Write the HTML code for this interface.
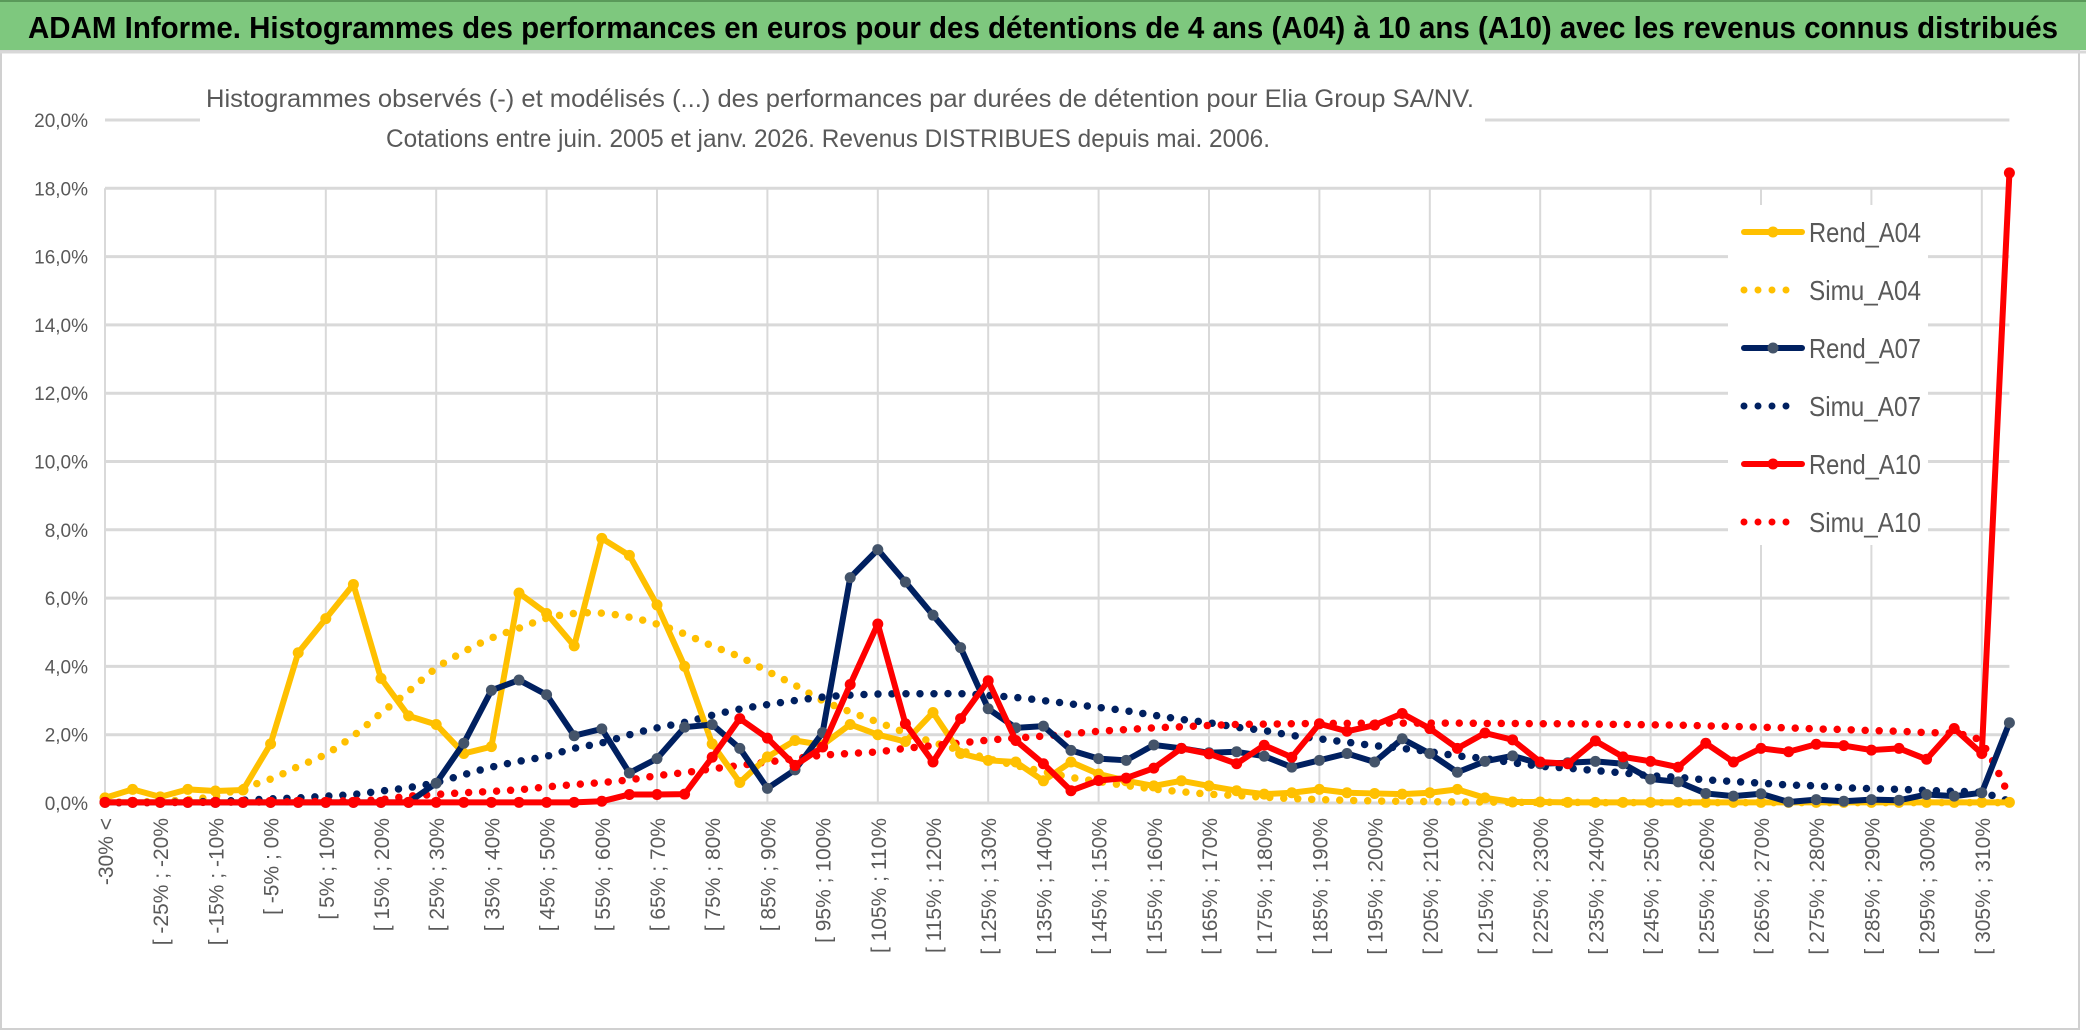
<!DOCTYPE html>
<html><head><meta charset="utf-8"><style>
html,body{margin:0;padding:0;background:#fff;}
body{width:2086px;height:1031px;overflow:hidden;font-family:"Liberation Sans",sans-serif;}
</style></head><body>
<svg id="chart" width="2086" height="1031" xmlns="http://www.w3.org/2000/svg" font-family="Liberation Sans, sans-serif">
<rect x="0" y="0" width="2086" height="1031" fill="#fff"/>
<rect x="1" y="50" width="2078" height="979" fill="none" stroke="#d0d0d0" stroke-width="2"/>
<rect x="0" y="0" width="2086" height="50" fill="#7ec87e"/>
<line x1="0" y1="1" x2="2086" y2="1" stroke="#5a9a5a" stroke-width="2"/>
<line x1="0" y1="52" x2="2086" y2="52" stroke="#d8d8d8" stroke-width="3"/>
<text x="1043" y="38" text-anchor="middle" font-size="31" font-weight="bold" fill="#000" textLength="2030" lengthAdjust="spacingAndGlyphs">ADAM Informe. Histogrammes des performances en euros pour des détentions de 4 ans (A04) à 10 ans (A10) avec les revenus connus distribués</text>
<g id="grid"></g>
<g id="yaxis"></g>
<g id="xaxis"></g>
<rect x="200" y="76" width="1285" height="86" fill="#fff"/>
<text x="840" y="107" text-anchor="middle" font-size="25" fill="#595959" textLength="1268" lengthAdjust="spacingAndGlyphs">Histogrammes observés (-) et modélisés (...) des performances par durées de détention pour Elia Group SA/NV.</text>
<text x="828" y="147" text-anchor="middle" font-size="25" fill="#595959" textLength="884" lengthAdjust="spacingAndGlyphs">Cotations entre juin. 2005 et janv. 2026. Revenus DISTRIBUES depuis mai. 2006.</text>
<g id="series"></g>
<g id="legend"></g>
</svg>
<script>
const categories = (function(){const c=["-30% <"];for(let i=1;i<70;i++){const a=-30+5*(i-1);c.push("[ "+a+"% ; "+(a+5)+"%");}return c;})();
const yTicks = [0,2,4,6,8,10,12,14,16,18,20];
const rendA04 = [0.15,0.4,0.18,0.4,0.35,0.38,1.73,4.4,5.4,6.4,3.65,2.55,2.3,1.45,1.65,6.15,5.55,4.6,7.75,7.25,5.8,4.0,1.73,0.6,1.35,1.83,1.7,2.3,2.0,1.8,2.65,1.45,1.25,1.2,0.65,1.2,0.85,0.65,0.5,0.65,0.5,0.36,0.26,0.3,0.4,0.3,0.28,0.26,0.3,0.4,0.15,0.03,0.03,0.02,0.02,0.02,0.02,0.02,0.02,0.02,0.02,0.02,0.02,0.02,0.02,0.02,0.02,0.02,0.02,0.02];
const simuA04 = [0.02,0.03,0.05,0.1,0.2,0.45,0.7,1.07,1.43,1.97,2.63,3.27,3.95,4.43,4.83,5.12,5.41,5.55,5.56,5.44,5.24,4.95,4.6,4.28,3.86,3.45,3.0,2.67,2.37,2.06,1.78,1.54,1.3,1.1,0.92,0.75,0.63,0.51,0.41,0.33,0.26,0.22,0.17,0.13,0.1,0.08,0.06,0.05,0.04,0.03,0.03,0.02,0.02,0.02,0.01,0.01,0.01,0.01,0.01,0.01,0.01,0.01,0.01,0.01,0.01,0.01,0.01,0.01,0.01,0.01];
const rendA07 = [0.02,0.02,0.02,0.02,0.02,0.02,0.02,0.02,0.02,0.02,0.02,0.02,0.58,1.75,3.3,3.6,3.17,1.97,2.17,0.88,1.3,2.22,2.3,1.6,0.43,0.97,2.06,6.6,7.42,6.47,5.5,4.55,2.76,2.2,2.25,1.54,1.3,1.25,1.7,1.6,1.47,1.5,1.37,1.05,1.25,1.45,1.2,1.88,1.45,0.9,1.22,1.38,1.15,1.18,1.22,1.15,0.7,0.62,0.28,0.2,0.27,0.03,0.1,0.05,0.1,0.08,0.25,0.2,0.3,2.35];
const simuA07 = [0.01,0.01,0.02,0.03,0.05,0.08,0.12,0.15,0.2,0.25,0.35,0.45,0.6,0.83,1.05,1.22,1.37,1.6,1.76,2.0,2.2,2.36,2.57,2.75,2.88,3.0,3.1,3.16,3.19,3.2,3.2,3.2,3.15,3.09,3.0,2.9,2.8,2.7,2.57,2.45,2.35,2.22,2.12,1.98,1.88,1.78,1.68,1.6,1.5,1.38,1.3,1.18,1.08,1.02,0.95,0.88,0.8,0.75,0.68,0.63,0.58,0.53,0.5,0.45,0.42,0.4,0.37,0.34,0.3,0.05];
const rendA10 = [0.02,0.02,0.02,0.02,0.02,0.02,0.02,0.02,0.02,0.02,0.02,0.02,0.02,0.02,0.02,0.02,0.02,0.02,0.05,0.25,0.25,0.26,1.34,2.47,1.9,1.1,1.64,3.47,5.24,2.32,1.2,2.47,3.58,1.83,1.15,0.36,0.66,0.73,1.02,1.6,1.44,1.15,1.69,1.34,2.32,2.1,2.28,2.62,2.18,1.6,2.05,1.85,1.2,1.15,1.82,1.35,1.22,1.05,1.75,1.2,1.6,1.5,1.72,1.68,1.55,1.6,1.28,2.18,1.45,18.45];
const simuA10 = [0.01,0.01,0.01,0.02,0.02,0.03,0.03,0.04,0.05,0.07,0.1,0.2,0.25,0.3,0.34,0.39,0.47,0.54,0.6,0.68,0.8,0.89,1.0,1.1,1.2,1.3,1.4,1.45,1.5,1.6,1.68,1.76,1.84,1.9,1.96,2.03,2.1,2.15,2.2,2.23,2.27,2.3,2.31,2.32,2.33,2.33,2.34,2.34,2.34,2.34,2.33,2.33,2.32,2.32,2.31,2.3,2.29,2.28,2.26,2.24,2.22,2.2,2.17,2.15,2.12,2.1,2.06,2.03,1.75,0.2];
const seriesNames = ["Rend_A04","Simu_A04","Rend_A07","Simu_A07","Rend_A10","Simu_A10"];

const NS="http://www.w3.org/2000/svg";
const X0=105, DX=27.6, Y0=803, PPU=34.15;
function xs(i){return X0+DX*i;}
function ys(v){return Y0-PPU*v;}
function mk(tag,attrs,parent){const e=document.createElementNS(NS,tag);for(const k in attrs)e.setAttribute(k,attrs[k]);parent.appendChild(e);return e;}
const grid=document.getElementById('grid'), yax=document.getElementById('yaxis'), xax=document.getElementById('xaxis'), ser=document.getElementById('series'), leg=document.getElementById('legend');
const XR=xs(categories.length-1);
yTicks.forEach(t=>{
  const l=mk('line',{x1:X0,x2:XR,y1:ys(t),y2:ys(t),stroke:'#d9d9d9','stroke-width':3},grid);
  
  
  const tx=mk('text',{x:88,y:ys(t)+7,'text-anchor':'end','font-size':19,fill:'#595959'},yax);
  
  
  tx.textContent=t.toFixed(1).replace('.',',')+'%';
});
categories.forEach((c,i)=>{
  if(i%4===0){
    const l=mk('line',{x1:xs(i),x2:xs(i),y1:ys(18),y2:Y0,stroke:'#d9d9d9','stroke-width':2},grid);
    
    
  }
  if(i%2===0){
    const tx=mk('text',{x:0,y:0,'text-anchor':'end','font-size':21,fill:'#595959',transform:'translate('+(xs(i)+8)+',818) rotate(-90)'},xax);
    
    
    tx.textContent=c;
  }
});
function smoothPath(vals){
  const p=vals.map((v,i)=>[xs(i),ys(v)]);let d='M'+p[0][0]+','+p[0][1];
  for(let i=0;i<p.length-1;i++){const a=p[i-1]||p[i],b=p[i],c=p[i+1],e=p[i+2]||c;
    d+=' C'+(b[0]+(c[0]-a[0])/6)+','+(b[1]+(c[1]-a[1])/6)+' '+(c[0]-(e[0]-b[0])/6)+','+(c[1]-(e[1]-b[1])/6)+' '+c[0]+','+c[1];}
  return d;
}
function drawSim(vals,color,name){
  const p=mk('path',{d:smoothPath(vals),fill:'none',stroke:color,'stroke-width':7.5,'stroke-linecap':'round','stroke-dasharray':'0 14'},ser);
  
  
}
function drawRend(vals,color,mcolor,name){
  const pts=vals.map((v,i)=>xs(i)+','+ys(v)).join(' ');
  const p=mk('polyline',{points:pts,fill:'none',stroke:color,'stroke-width':6,'stroke-linejoin':'round'},ser);
  
  
  vals.forEach((v,i)=>{
    const c=mk('circle',{cx:xs(i),cy:ys(v),r:5.5,fill:mcolor},ser);
    
    
  });
}
drawSim(simuA04,'#FFC000','simu-a04-line');
drawSim(simuA07,'#002060','simu-a07-line');
drawSim(simuA10,'#FF0000','simu-a10-line');
drawRend(rendA04,'#FFC000','#FFC000','rend-a04-line');
drawRend(rendA07,'#002060','#44546A','rend-a07-line');
drawRend(rendA10,'#FF0000','#FF0000','rend-a10-line');
const lb=mk('rect',{x:1728,y:205,width:200,height:340,fill:'#fff'},leg);


const legColors=['#FFC000','#FFC000','#002060','#002060','#FF0000','#FF0000'];
const legMarker=['#FFC000',null,'#44546A',null,'#FF0000',null];
seriesNames.forEach((n,k)=>{
  const y=232+58*k;
  const g=mk('g',{},leg);
  
  
  if(legMarker[k]){
    mk('line',{x1:1744,x2:1802,y1:y,y2:y,stroke:legColors[k],'stroke-width':6,'stroke-linecap':'round'},g);
    mk('circle',{cx:1773,cy:y,r:5.5,fill:legMarker[k]},g);
  } else {
    mk('line',{x1:1744,x2:1800,y1:y,y2:y,stroke:legColors[k],'stroke-width':7,'stroke-linecap':'round','stroke-dasharray':'0 14'},g);
  }
  const t=mk('text',{x:1809,y:y+10,'font-size':28,fill:'#595959',textLength:112,lengthAdjust:'spacingAndGlyphs'},g);
  t.textContent=n;
});
</script>
</body></html>
